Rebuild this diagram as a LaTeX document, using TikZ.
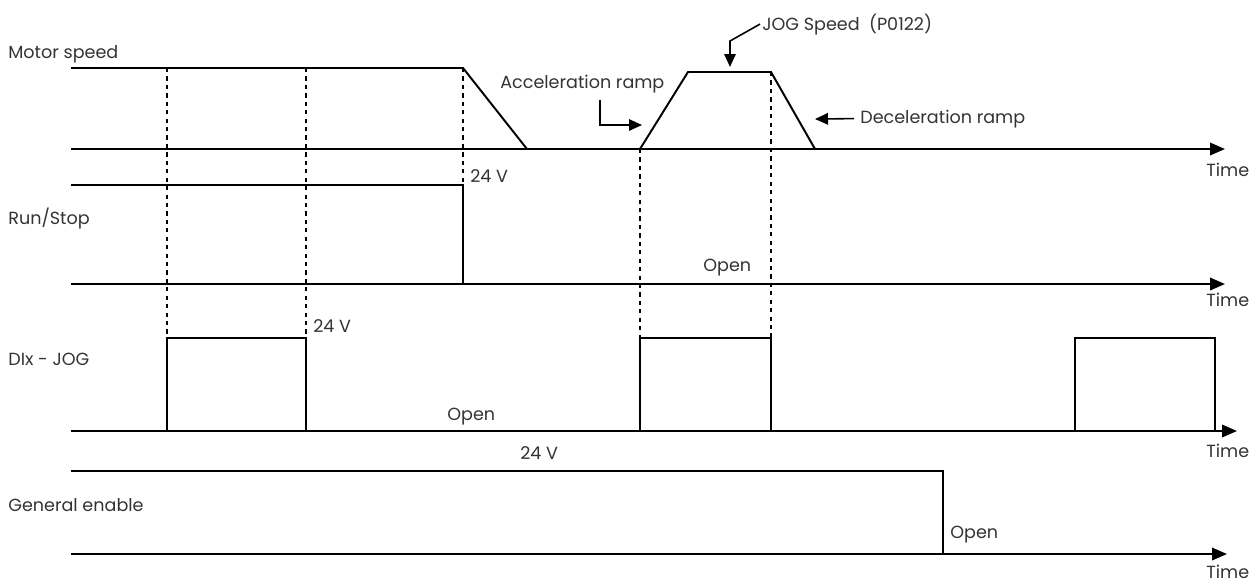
\documentclass[tikz,border=0pt]{standalone}
\usepackage{fontspec}
\setmainfont{Poppins}
\usetikzlibrary{arrows.meta}
\definecolor{txt}{HTML}{333333}

\begin{document}
\begin{tikzpicture}[
      x=0.02cm, y=-0.02cm,
      sig/.style={line width=1.1pt, line join=miter},
      axis/.style={line width=1.1pt, -{Triangle[length=3mm, width=2.5mm]}},
      guide/.style={line width=0.8pt, dash pattern=on 2.4pt off 2.4pt},
      lbl/.style={anchor=base west, inner sep=0pt, font=\fontsize{10}{12}\selectfont, text=txt},
      note/.style={-{Triangle[length=2.6mm, width=2.3mm]}, line width=0.9pt}
    ]
      \useasboundingbox (0,0) rectangle (1252,583);
      % signal names
      \node[lbl] (mot) at (8,58) {Motor speed};
      \node[lbl] (run) at (8,224) {Run/Stop};
      \node[lbl] (dix) at (8,365) {DIx - JOG};
      \node[lbl] (ena) at (8,511) {General enable};
      % time axes
      \foreach \y/\tip/\ty/\name in {149/1225/176/ta, 284/1225/306/tb, 431/1237/457/tc, 554/1227/578/td} {
        \draw[axis] (71,\y) -- (\tip,\y);
        \node[lbl] (\name) at (1206,\ty) {Time};
      }
      % dotted guides
      \draw[guide] (167,68) -- (167,338);
      \draw[guide] (306,68) -- (306,338);
      \draw[guide] (463,68) -- (463,185);
      \draw[guide] (640,149) -- (640,338);
      \draw[guide] (771,72) -- (771,338);
      % motor speed
      \draw[sig] (71,68) -- (463,68) -- (527,149);
      \draw[sig] (640,149) -- (688,72) -- (771,72) -- (815,149);
      % run/stop
      \draw[sig] (71,185) -- (463,185) -- (463,284);
      % jog input
      \foreach \a/\b in {167/306, 640/771, 1075/1215}
        \draw[sig] (\a,431) -- (\a,338) -- (\b,338) -- (\b,431);
      % general enable
      \draw[sig] (71,471) -- (943,471) -- (943,554);
      % levels
      \node[lbl] (on1) at (470,182) {24 V};
      \node[lbl] (off1) at (703,271) {Open};
      \node[lbl] (on2) at (313,332) {24 V};
      \node[lbl] (off2) at (447,420) {Open};
      \node[lbl] (on3) at (520,459) {24 V};
      \node[lbl] (off3) at (950,538) {Open};
      % ramp notes
      \node[lbl] (jog) at (762,30) {JOG Speed\ \ (P0122)};
      \node[lbl] (acc) at (500,88) {Acceleration ramp};
      \node[lbl] (dec) at (860,123) {Deceleration ramp};
      \coordinate (jogtip) at (730,67);
      \coordinate (accbend) at (600,125);
      \coordinate (acctip) at (642,125);
      \coordinate (dectip) at (815,119);
      \draw[note] ([xshift=-0.04cm]jog.west) -- (730,41) -- (jogtip);
      \draw[note] ([yshift=-4pt]acc.south -| accbend) -- (accbend) -- (acctip);
      \draw[note] ([xshift=-0.12cm]dec.west) -- (dectip);
    \end{tikzpicture}
\end{document}
